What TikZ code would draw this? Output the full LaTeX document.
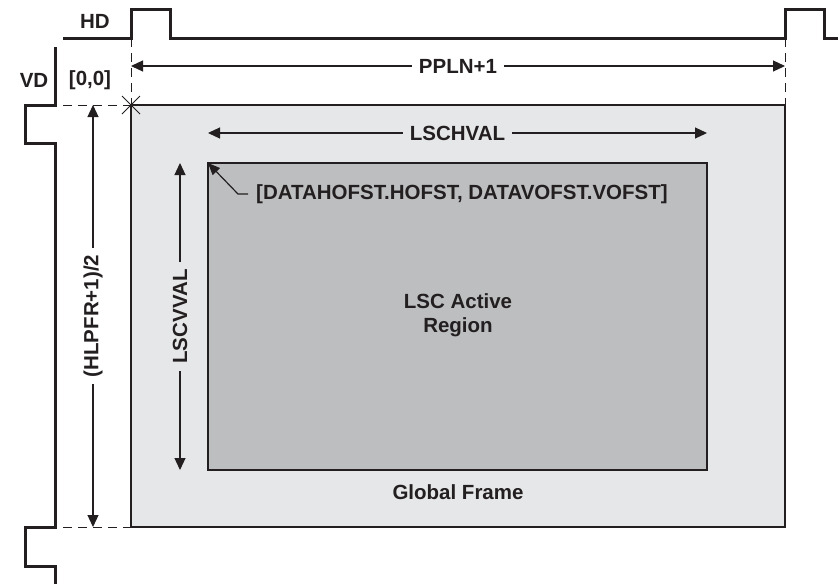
\documentclass[tikz,border=0pt]{standalone}
\usepackage{fontspec}
\setmainfont{Liberation Sans}
\usetikzlibrary{arrows.meta}
\definecolor{ink}{HTML}{231F20}
\definecolor{globfill}{HTML}{E6E7E8}
\definecolor{actfill}{HTML}{BCBEC0}
\tikzset{
  px/.style={x=1pt,y=-1pt,font=\fontsize{20.5}{24}\selectfont\bfseries,text=ink},
  wave/.style={ink,line width=3pt},
  region/.style={draw=ink,line width=2.5pt,outer sep=0pt,inner sep=0pt,anchor=north west},
  dimline/.style={ink,line width=1.2pt,{Triangle[length=12pt,width=11pt]}-{Triangle[length=12pt,width=11pt]}},
  guide/.style={ink,line width=1pt,dash pattern=on 9pt off 6pt},
  gap/.style={fill=#1,inner xsep=7pt,inner ysep=4pt},
  leader/.style={ink,line width=1.2pt,-{Triangle[length=12pt,width=10pt]}}
}

\begin{document}
\begin{tikzpicture}[px]
  \useasboundingbox (0,0) rectangle (838,584);
  % frames
  \node[region,fill=globfill,minimum width=654pt,minimum height=422pt] (glob) at (131,105) {};
  \node[region,fill=actfill,minimum width=499pt,minimum height=307pt] (act) at (208,163) {};
  \node[align=center] (actlbl) at (458,315) {LSC Active\\Region};
  \node (globlbl) at (458,492) {Global Frame};
  % sync signals
  \draw[wave] (63,38) -- (131,38) -- (131,9) -- (170,9) -- (170,38) -- (785,38)
    -- (785,9) -- (824,9) -- (824,38) -- (838,38);
  \draw[wave] (55,47) -- (55,105) -- (25,105) -- (25,143) -- (55,143) -- (55,527)
    -- (25,527) -- (25,566) -- (55,566) -- (55,584);
  \node (hd) at (95,21) {HD};
  \node (vd) at (34,80) {VD};
  \node (orig) at (90,80) {[0,0]};
  % guides
  \coordinate (hdrise) at (131,38);
  \coordinate (hdnext) at (785,38);
  \coordinate (vdtop) at (63,105);
  \coordinate (vdbot) at (63,527);
  \draw[guide] (hdrise) -- (glob.north west);
  \draw[guide] (hdnext) -- (glob.north east);
  \draw[guide] (vdtop) -- (glob.north west);
  \draw[guide] (vdbot) -- (glob.south west);
  \draw[ink,line width=.8pt] (glob.north west) +(-9,-9) -- +(9,9) +(-9,9) -- +(9,-9);
  % dimensions
  \draw[dimline] ([yshift=39pt]glob.north west) -- node[gap=white] (ppln) {PPLN+1} ([yshift=39pt]glob.north east);
  \draw[dimline] ([yshift=30pt]act.north west) -- node[gap=globfill] (hval) {LSCHVAL} ([yshift=30pt]act.north east);
  \draw[dimline] ([xshift=-38pt]glob.north west) -- node[gap=white,rotate=90] (hlpfr) {(HLPFR+1)/2} ([xshift=-38pt]glob.south west);
  \draw[dimline] ([xshift=-28pt]act.north west) -- node[gap=globfill,rotate=90] (vval) {LSCVVAL} ([xshift=-28pt]act.south west);
  % offset note
  \node[anchor=west,inner sep=5pt] (ofs) at (251,194) {[DATAHOFST.HOFST, DATAVOFST.VOFST]};
  \draw[leader] ([xshift=-3pt]ofs.west) -- ++(-10,0) -- (act.north west);
\end{tikzpicture}
\end{document}
